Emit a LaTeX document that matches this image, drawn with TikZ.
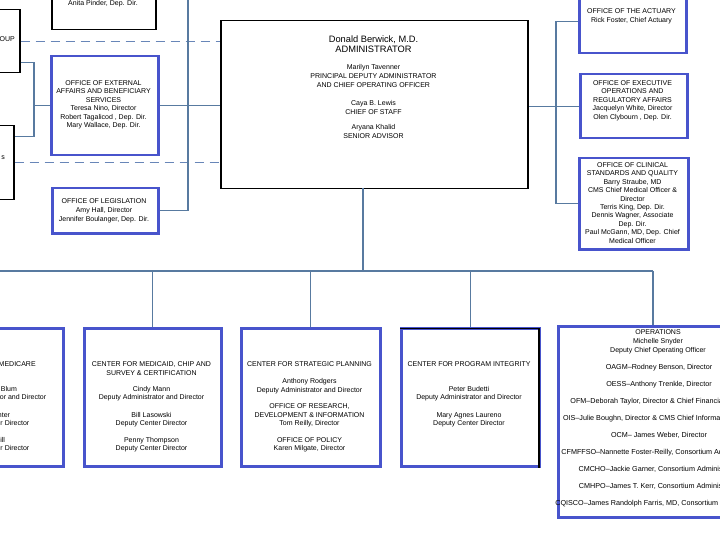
\documentclass[tikz,border=0pt]{standalone}
\usepackage{fontspec}
\setmainfont{Liberation Sans}
\definecolor{bx}{RGB}{72,84,204}
\definecolor{ln}{RGB}{88,122,160}
\definecolor{dl}{RGB}{104,134,184}
\begin{document}
\begin{tikzpicture}[x=1pt,y=-1pt,
  bbox/.style={draw=bx,line width=2.5pt,fill=white,inner sep=0pt,anchor=north west},
  kbox/.style={draw=black,line width=1.5pt,fill=white,inner sep=0pt,anchor=north west},
  tx/.style={font=\fontsize{7}{8.5}\selectfont,align=center,inner sep=0pt,anchor=base},
  bt/.style={tx,font=\fontsize{7}{8}\selectfont},
  conn/.style={draw=ln,line width=1.3pt},
  dconn/.style={draw=dl,line width=1.2pt,dash pattern=on 9pt off 6pt}]
\useasboundingbox (0,0) rectangle (720,540);
\clip (0,0) rectangle (720,540);
\fill[white] (0,0) rectangle (720,540);

% ---------- boxes ----------
\node[kbox,minimum width=104pt,minimum height=40pt] (pinder) at (51,-11) {};
\node[kbox,minimum width=30pt,minimum height=63pt] (grp) at (-11,9) {};
\node[kbox,minimum width=24pt,minimum height=74pt] (sbox) at (-11,125) {};
\node[bbox,minimum width=107pt,minimum height=99pt] (ext) at (50,55) {};
\node[bbox,minimum width=106pt,minimum height=45pt] (leg) at (51,187) {};
\node[kbox,minimum width=307pt,minimum height=168pt] (main) at (220,20) {};
\node[bbox,minimum width=107pt,minimum height=63pt] (act) at (578,-11) {};
\node[bbox,minimum width=107pt,minimum height=64pt] (exec) at (579,73) {};
\node[bbox,minimum width=109pt,minimum height=91pt] (clin) at (578,157) {};
\node[bbox,minimum width=137pt,minimum height=138pt] (mcare) at (-75,327) {};
\node[bbox,minimum width=137pt,minimum height=138pt] (mcaid) at (83,327) {};
\node[bbox,minimum width=139pt,minimum height=138pt] (strat) at (240,327) {};
\node[bbox,minimum width=138pt,minimum height=138pt] (prog) at (400,327) {};
\node[bbox,minimum width=203pt,minimum height=191pt] (ops) at (557,325) {};
\draw[line width=1.2pt] ([yshift=-1.6pt]prog.north west) -- ([xshift=-1.6pt,yshift=-1.6pt]prog.north east) -- ([xshift=-1.6pt]prog.south east);

% ---------- connector junctions ----------
\coordinate (lbus) at (34,0);
\coordinate (vtop) at (188,-5);
\coordinate (rbus) at (556,0);
\coordinate (busL) at (-10,271);
\coordinate (busR) at (653,271);
\coordinate (mdrop) at (363,188);

% ---------- connectors ----------
\draw[dconn] (grp.east) -- (grp.east -| main.west);
\draw[dconn] (sbox.east) -- (sbox.east -| main.west);
\draw[conn] ([yshift=-21.5pt]grp.east) -| (lbus |- ext.west) |- ([yshift=26pt]sbox.east);
\draw[conn] (ext.west) -- (ext.west -| lbus);
\draw[conn] (ext.east) -- (ext.east -| main.west);
\draw[conn] (leg.east) -| (vtop);
\draw[conn] (act.west) -- (act.west -| rbus) -- (clin.west -| rbus) -- (clin.west);
\draw[conn] (exec.west) -- (exec.west -| main.east);
\draw[conn] (mdrop) -- (mdrop |- busL);
\draw[conn] (busL) -- (busR);
\draw[conn] (mcaid.north) -- (mcaid.north |- busL);
\draw[conn] (strat.north) -- (strat.north |- busL);
\draw[conn] (prog.north) -- (prog.north |- busL);
\draw[conn] (busR) -- (busR |- ops.north);

% ---------- texts (anchor = baseline of last line) ----------
\node[tx] (tpinder) at (103,5.5) {Anita Pinder, Dep. Dir.};
\node[tx,anchor=base east] (tgrp) at (15,41.5) {GROUP};
\node[tx,anchor=base east] (tsbox) at (5,159.5) {s};
\node[tx] (text) at (103.5,128) {OFFICE OF EXTERNAL\\AFFAIRS AND BENEFICIARY\\SERVICES\\Teresa Nino, Director\\Robert Tagalicod , Dep. Dir.\\Mary Wallace, Dep. Dir.};
\node[tx,font=\fontsize{7}{9}\selectfont] (tleg) at (104,221.5) {OFFICE OF LEGISLATION\\Amy Hall, Director\\Jennifer Boulanger, Dep. Dir.};

\node[tx,font=\fontsize{9.3}{10.5}\selectfont] (tmain) at (373.5,53) {Donald Berwick, M.D.\\ADMINISTRATOR};
\node[tx,font=\fontsize{7}{9}\selectfont] (tmain2) at (373.5,138.3) {Marilyn Tavenner\\PRINCIPAL DEPUTY ADMINISTRATOR\\AND CHIEF OPERATING OFFICER\\[8.7pt]Caya B. Lewis\\CHIEF OF STAFF\\[6pt]Aryana Khalid\\SENIOR ADVISOR};

\node[tx,font=\fontsize{7}{8.7}\selectfont] (tact) at (631.5,22.2) {OFFICE OF THE ACTUARY\\Rick Foster, Chief Actuary};
\node[tx] (texec) at (632.5,119.5) {OFFICE OF EXECUTIVE\\OPERATIONS AND\\REGULATORY AFFAIRS\\Jacquelyn White, Director\\Olen Clybourn , Dep. Dir.};
\node[tx,font=\fontsize{7}{8.4}\selectfont] (tclin) at (632.5,243.1) {OFFICE OF CLINICAL\\STANDARDS AND QUALITY\\Barry Straube, MD\\CMS Chief Medical Officer \&\\Director\\Terris King, Dep. Dir.\\Dennis Wagner, Associate\\Dep. Dir.\\Paul McGann, MD, Dep. Chief\\Medical Officer};

\node[bt] (tmcare) at (-6.5,450.5) {CENTER FOR MEDICARE\\[17pt]Jonathan Blum\\Deputy Administrator and Director\\[10pt]Liz Richter\\Deputy Center Director\\[9pt]Tim Hill\\Deputy Center Director};
\node[bt] (tmcaid) at (151.5,450.5) {CENTER FOR MEDICAID, CHIP AND\\[1pt]SURVEY \& CERTIFICATION\\[8pt]Cindy Mann\\Deputy Administrator and Director\\[10pt]Bill Lasowski\\Deputy Center Director\\[9pt]Penny Thompson\\Deputy Center Director};
\node[bt] (tstrat) at (309.5,450.5) {CENTER FOR STRATEGIC PLANNING\\[9pt]Anthony Rodgers\\[1pt]Deputy Administrator and Director\\[8pt]OFFICE OF RESEARCH,\\[1pt]DEVELOPMENT \& INFORMATION\\Tom Reilly, Director\\[9pt]OFFICE OF POLICY\\Karen Milgate, Director};
\node[bt] (tprog) at (469,425.5) {CENTER FOR PROGRAM INTEGRITY\\[17pt]Peter Budetti\\Deputy Administrator and Director\\[10pt]Mary Agnes Laureno\\Deputy Center Director};

\node[tx,font=\fontsize{7}{9.2}\selectfont] (tops) at (658,352.4) {OPERATIONS\\Michelle Snyder\\Deputy Chief Operating Officer};
\node[tx,font=\fontsize{7.2}{17}\selectfont] (tops2) at (659,505.2) {OAGM–Rodney Benson, Director\\OESS–Anthony Trenkle, Director\\OFM–Deborah Taylor, Director \& Chief Financial Officer\\OIS–Julie Boughn, Director \& CMS Chief Information Officer\\OCM– James Weber, Director\\CFMFFSO–Nannette Foster-Reilly, Consortium Administrator\\CMCHO–Jackie Garner, Consortium Administrator\\CMHPO–James T. Kerr, Consortium Administrator\\CQISCO–James Randolph Farris, MD, Consortium Administrator};
\end{tikzpicture}
\end{document}
